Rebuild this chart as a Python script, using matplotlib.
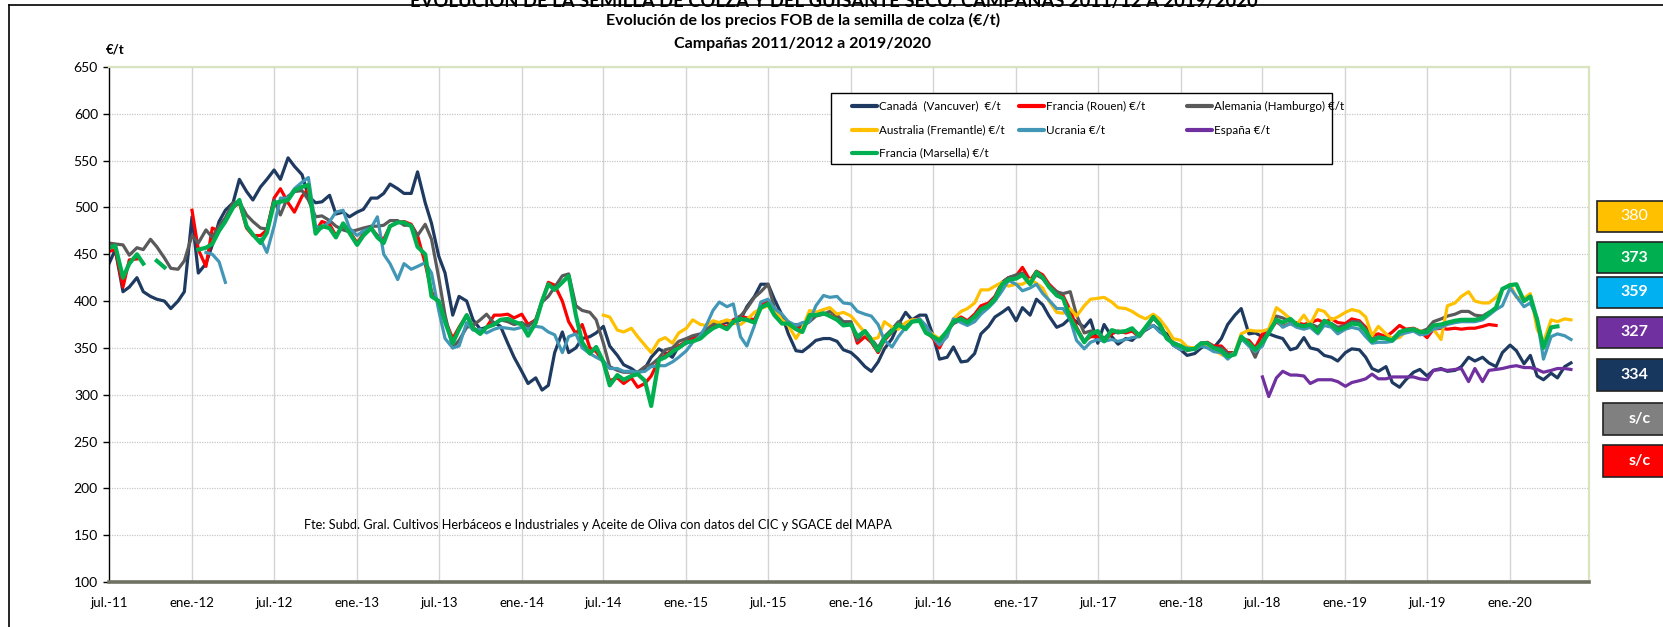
import numpy as np
import pandas as pd
import matplotlib
matplotlib.use('Agg')
import matplotlib.pyplot as plt
from matplotlib.patches import Rectangle
from matplotlib.lines import Line2D

nan = np.nan

# quotes on the 1st and 15th of each month, jul-2011 .. may-2020 (EUR/t)
fechas = pd.date_range('2011-07-01', periods=214, freq='SMS')

canada = [
    440, 455, 410, 415, 425, 410, 405, 402, 400, 392, 400, 410,
    490, 430, 440, 460, 485, 497, 505, 530, 517, 508, 522, 530,
    540, 530, 553, 544, 535, 512, 505, 506, 513, 493, 495, 490,
    495, 498, 510, 510, 515, 525, 520, 515, 515, 538, 505, 483,
    448, 430, 385, 405, 400, 380, 370, 372, 377, 373, 355, 340,
    325, 312, 318, 305, 310, 345, 367, 345, 350, 360, 362, 366,
    373, 352, 342, 332, 328, 323, 328, 340, 349, 345, 340, 352,
    355, 360, 363, 370, 376, 376, 377, 376, 380, 394, 405, 418,
    418, 402, 385, 365, 347, 346, 352, 358, 360, 360, 357, 348,
    345, 339, 330, 325, 335, 349, 360, 375, 388, 380, 385, 385,
    363, 338, 340, 351, 335, 336, 344, 365, 373, 383, 388, 393,
    379, 393, 385, 402, 396, 384, 372, 375, 382, 378, 372, 380,
    355, 375, 362, 354, 360, 358, 365, 369, 374, 369, 365, 353,
    348, 342, 344, 350, 354, 350, 360, 375, 385, 392, 365, 366,
    362, 365, 362, 360, 348, 350, 361, 350, 348, 342, 340, 336,
    345, 349, 348, 340, 328, 325, 330, 313, 308, 316, 324, 327,
    320, 326, 328, 325, 326, 330, 340, 336, 340, 334, 330, 345,
    353, 347, 333, 342, 320, 316, 323, 318, 330, 334]

rouen = [
    453, 455, 415, 444, 445, nan, nan, nan, nan, nan, nan, nan,
    497, 455, 437, 478, 475, 487, 500, 505, 478, 470, 470, 476,
    510, 520, 505, 495, 512, 520, 475, 485, 482, 470, 480, 475,
    462, 472, 478, 470, 466, 480, 484, 485, 482, 470, 440, 410,
    398, 380, 360, 372, 385, 372, 365, 372, 385, 385, 386, 382,
    386, 375, 380, 400, 420, 417, 400, 378, 365, 375, 350, 346,
    335, 315, 318, 312, 318, 308, 312, 320, 337, 342, 348, 352,
    357, 360, 362, 368, 373, 376, 372, 380, 384, 382, 380, 395,
    400, 388, 378, 378, 372, 370, 386, 386, 387, 385, 382, 376,
    377, 355, 362, 356, 345, 358, 367, 375, 372, 380, 381, 368,
    360, 350, 366, 378, 383, 379, 386, 395, 398, 405, 420, 425,
    427, 436, 422, 432, 428, 418, 410, 406, 390, 372, 357, 362,
    362, 358, 365, 368, 366, 368, 362, 370, 382, 375, 360, 355,
    350, 348, 349, 355, 356, 352, 352, 345, 345, 360, 358, 350,
    365, 368, 378, 373, 376, 377, 375, 377, 380, 377, 381, 377,
    376, 381, 379, 372, 363, 365, 362, 367, 374, 370, 371, 368,
    361, 370, 371, 370, 371, 370, 371, 371, 373, 375, 374, nan,
    nan, nan, nan, nan, nan, nan, nan, nan, nan, nan]

alemania = [
    462, 461, 460, 449, 457, 455, 466, 458, 446, 435, 434, 443,
    470, 462, 476, 468, 480, 489, 505, 506, 492, 485, 478, 477,
    508, 492, 512, 517, 518, 508, 490, 491, 486, 480, 476, 474,
    476, 478, 480, 480, 481, 486, 486, 481, 481, 470, 482, 466,
    425, 385, 350, 358, 372, 374, 380, 386, 376, 380, 378, 375,
    377, 373, 380, 399, 405, 415, 427, 429, 395, 390, 388, 380,
    355, 330, 326, 324, 324, 324, 330, 332, 339, 348, 350, 357,
    360, 363, 365, 370, 376, 377, 379, 378, 384, 392, 404, 410,
    418, 393, 378, 374, 375, 373, 378, 384, 386, 389, 385, 378,
    378, 358, 368, 360, 350, 362, 370, 378, 372, 380, 380, 368,
    363, 355, 368, 376, 380, 378, 384, 392, 396, 404, 420, 425,
    428, 430, 420, 428, 424, 416, 410, 408, 410, 385, 366, 368,
    367, 360, 368, 366, 368, 370, 364, 372, 382, 376, 362, 356,
    352, 347, 350, 355, 355, 350, 350, 344, 345, 362, 354, 340,
    358, 368, 384, 382, 378, 374, 373, 376, 372, 378, 376, 372,
    374, 378, 378, 370, 359, 362, 360, 360, 366, 368, 370, 367,
    370, 378, 381, 384, 386, 389, 389, 385, 384, 388, nan, nan,
    nan, nan, nan, nan, nan, nan, nan, nan, nan, nan]

australia = [nan] * 72 + [
    385, 383, 369, 367, 371, 362, 353, 345, 358, 361, 355, 366,
    371, 380, 375, 374, 379, 377, 380, 377, 375, 380, 388, 392,
    395, 392, 380, 374, 360, 371, 390, 388, 391, 393, 386, 388,
    384, 376, 366, 359, 361, 378, 372, 370, 377, 380, 380, 371,
    364, 360, 367, 381, 389, 392, 398, 412, 412, 416, 420, 416,
    418, 418, 423, 419, 414, 400, 388, 387, 392, 384, 395, 402,
    403, 404, 399, 393, 392, 389, 384, 381, 386, 381, 371, 360,
    358, 351, 350, 353, 353, 348, 343, 340, 345, 365, 369, 368,
    368, 370, 393, 388, 381, 375, 385, 375, 391, 389, 380, 383,
    388, 391, 389, 383, 363, 373, 365, 360, 361, 368, 370, 368,
    367, 370, 359, 395, 398, 405, 410, 400, 398, 398, 404, 412,
    418, 404, 403, 408, 370, 356, 380, 378, 381, 380]

ucrania = [
    nan, nan, nan, nan, nan, nan, nan, nan, nan, nan, nan, nan,
    nan, nan, 452, 450, 442, 420, nan, nan, nan, nan, 466, 452,
    480, 510, 510, 520, 527, 532, 480, 478, 485, 495, 497, 478,
    470, 475, 478, 490, 450, 440, 423, 440, 434, 437, 441, 430,
    390, 360, 350, 352, 377, 369, 370, 366, 370, 372, 371, 370,
    372, 370, 373, 372, 367, 364, 345, 362, 365, 350, 344, 340,
    336, 328, 328, 325, 325, 324, 325, 330, 331, 331, 335, 340,
    347, 356, 363, 375, 390, 399, 394, 397, 362, 352, 374, 399,
    402, 392, 386, 378, 374, 377, 378, 395, 406, 404, 405, 398,
    397, 389, 386, 384, 375, 358, 351, 362, 372, 378, 381, 374,
    361, 353, 362, 381, 377, 374, 378, 386, 393, 400, 411, 422,
    418, 411, 414, 418, 408, 401, 392, 392, 380, 358, 349, 356,
    359, 357, 359, 357, 359, 361, 362, 370, 374, 367, 362, 353,
    348, 350, 348, 352, 350, 346, 345, 338, 345, 360, 352, 346,
    352, 368, 380, 372, 376, 372, 370, 372, 365, 374, 372, 365,
    370, 372, 370, 362, 355, 356, 356, 357, 364, 366, 368, 364,
    365, 370, 372, 375, 377, 378, 378, 378, 380, 385, 391, 395,
    414, 405, 394, 398, 382, 338, 362, 365, 363, 359]

espana = [nan] * 168 + [
    319, 298, 318, 325, 321, 321, 320, 312, 316, 316, 316, 314,
    309, 313, 315, 317, 322, 317, 317, 319, 319, 319, 319, 317,
    316, 326, 327, 326, 327, 328, 314, 328, 314, 326, 327, 328,
    330, 331, 329, 329, 327, 324, 326, 328, 328, 327]

marsella = [
    457, 459, 425, 440, 450, 440, nan, 443, 436, nan, nan, nan,
    nan, 455, 457, 461, 475, 485, 500, 508, 480, 471, 462, 473,
    505, 506, 508, 518, 522, 524, 472, 480, 478, 468, 483, 473,
    460, 470, 478, 468, 462, 480, 484, 484, 480, 458, 450, 405,
    400, 378, 355, 370, 385, 371, 365, 372, 375, 380, 381, 378,
    375, 363, 377, 400, 418, 412, 420, 427, 385, 356, 344, 351,
    335, 310, 321, 316, 320, 322, 315, 288, 337, 340, 346, 350,
    356, 357, 360, 366, 371, 374, 370, 378, 381, 380, 377, 393,
    397, 385, 376, 376, 370, 367, 385, 385, 387, 384, 380, 374,
    375, 362, 368, 358, 347, 360, 368, 375, 370, 378, 379, 366,
    362, 358, 368, 378, 381, 377, 383, 391, 395, 402, 418, 423,
    424, 428, 418, 431, 425, 415, 406, 403, 382, 370, 356, 365,
    368, 357, 369, 367, 368, 371, 363, 372, 383, 375, 360, 355,
    352, 348, 349, 355, 355, 350, 347, 341, 343, 362, 355, 348,
    356, 366, 380, 377, 381, 375, 373, 375, 367, 379, 375, 369,
    372, 376, 375, 368, 357, 361, 360, 358, 367, 369, 370, 367,
    367, 374, 375, 377, 379, 380, 380, 380, 382, 387, 393, 413,
    417, 418, 400, 405, 380, 350, 372, 373, nan, nan]

series = [
    ('Canadá  (Vancuver)  €/t', canada, '#1f3a60', 2.3),
    ('Francia (Rouen) €/t', rouen, '#ff0000', 2.3),
    ('Alemania (Hamburgo) €/t', alemania, '#5a5a5a', 2.3),
    ('Australia (Fremantle) €/t', australia, '#ffc000', 2.3),
    ('Ucrania €/t', ucrania, '#4397b6', 2.3),
    ('España €/t', espana, '#7030a0', 2.3),
    ('Francia (Marsella) €/t', marsella, '#00b050', 3.0),
]

tick_fechas = pd.date_range('2011-07-01', '2020-01-01', freq='6MS')
tick_labels = ['jul.-11', 'ene.-12', 'jul.-12', 'ene.-13', 'jul.-13', 'ene.-14',
               'jul.-14', 'ene.-15', 'jul.-15', 'ene.-16', 'jul.-16', 'ene.-17',
               'jul.-17', 'ene.-18', 'jul.-18', 'ene.-19', 'jul.-19', 'ene.-20']

# last quote boxes on the right
cajas = [('380', '#ffc000', False), ('373', '#00b050', True), ('359', '#00b0f0', True),
         ('327', '#7030a0', True), ('334', '#17375e', True), ('s/c', '#808080', True),
         ('s/c', '#ff0000', True)]

plt.rcParams['font.family'] = ['Lato', 'DejaVu Sans']

W, H = 1663, 627
fig = plt.figure(figsize=(W / 100, H / 100), dpi=100)


def fx(x):
    return x / W


def fy(y):
    return 1 - y / H


ax = fig.add_axes([fx(109), fy(582), fx(1589) - fx(109), fy(67) - fy(582)])

for nombre, valores, color, lw in series:
    ax.plot(fechas, valores, color=color, lw=lw, label=nombre, solid_joinstyle='round')

ax.set_ylim(100, 650)
ax.set_yticks(range(100, 651, 50))
ax.set_xlim(pd.Timestamp('2011-07-01'), pd.Timestamp('2020-06-24'))
ax.set_xticks(tick_fechas)
ax.set_xticklabels(tick_labels)
ax.tick_params(axis='x', length=0, pad=11, labelsize=9.5)
ax.tick_params(axis='y', length=4, width=1, pad=4, labelsize=10)

for f in tick_fechas[1:]:
    ax.axvline(f, color='#d4d4d4', lw=1, zorder=0)
for v in range(150, 651, 50):
    ax.axhline(v, color='#c8c8c8', lw=0.9, ls=(0, (1, 1)), zorder=0)

ax.spines['left'].set_color('black')
ax.spines['left'].set_linewidth(1)
ax.spines['bottom'].set_color('#6e7262')
ax.spines['bottom'].set_linewidth(2.6)
for s in ['top', 'right']:
    ax.spines[s].set_color('#d8e4bf')
    ax.spines[s].set_linewidth(1.6)

# chart frame and texts
fig.add_artist(Line2D([fx(9), fx(9)], [fy(5), fy(640)], color='black', lw=1.2))
fig.add_artist(Line2D([fx(9), fx(1663)], [fy(5), fy(5)], color='black', lw=1.2))
fig.text(fx(834), fy(1), 'EVOLUCIÓN DE LA SEMILLA DE COLZA Y DEL GUISANTE SECO. CAMPAÑAS 2011/12 A 2019/2020',
         ha='center', va='center', fontsize=13.2, fontweight='bold')
fig.text(fx(803), fy(20), 'Evolución de los precios FOB de la semilla de colza (€/t)',
         ha='center', va='center', fontsize=11.5, fontweight='bold')
fig.text(fx(803), fy(44), 'Campañas 2011/2012 a 2019/2020',
         ha='center', va='center', fontsize=11.5, fontweight='bold')
fig.text(fx(115), fy(50), '€/t', ha='center', va='center', fontsize=9.5, fontweight='bold')
fig.text(fx(304), fy(525), 'Fte: Subd. Gral. Cultivos Herbáceos e Industriales y Aceite de Oliva con datos del CIC y SGACE del MAPA',
         ha='left', va='center', fontsize=9.2)

# legend box, filled row by row as in the original
fig.add_artist(Rectangle((fx(831), fy(164)), fx(1332) - fx(831), fy(93) - fy(164),
                         facecolor='white', edgecolor='black', lw=1, zorder=3))
col_x = [852, 1019, 1187]
row_y = [106, 130, 153]
for i, (nombre, valores, color, lw) in enumerate(series):
    cx = col_x[i % 3]
    cy = row_y[i // 3]
    fig.add_artist(Line2D([fx(cx), fx(cx + 25)], [fy(cy), fy(cy)], color=color, lw=3,
                          solid_capstyle='round', zorder=4))
    fig.text(fx(cx + 27), fy(cy), nombre, ha='left', va='center', fontsize=8.4, zorder=4)

caja_y = [(201, 232), (242, 273), (277, 308), (317, 348), (359, 391), (403, 435), (445, 477)]
for (txt, color, negrita), (y0, y1) in zip(cajas, caja_y):
    x0 = 1597 if txt != 's/c' else 1603
    fig.add_artist(Rectangle((fx(x0), fy(y1)), fx(1670) - fx(x0), fy(y0) - fy(y1),
                             facecolor=color, edgecolor='#222222', lw=1.2))
    tx = 1634 if txt != 's/c' else 1640
    fig.text(fx(tx), fy((y0 + y1) / 2), txt, ha='center', va='center', color='white',
             fontsize=11.5, fontweight='bold' if negrita else 'normal')

fig.savefig('out.png', dpi=100)
